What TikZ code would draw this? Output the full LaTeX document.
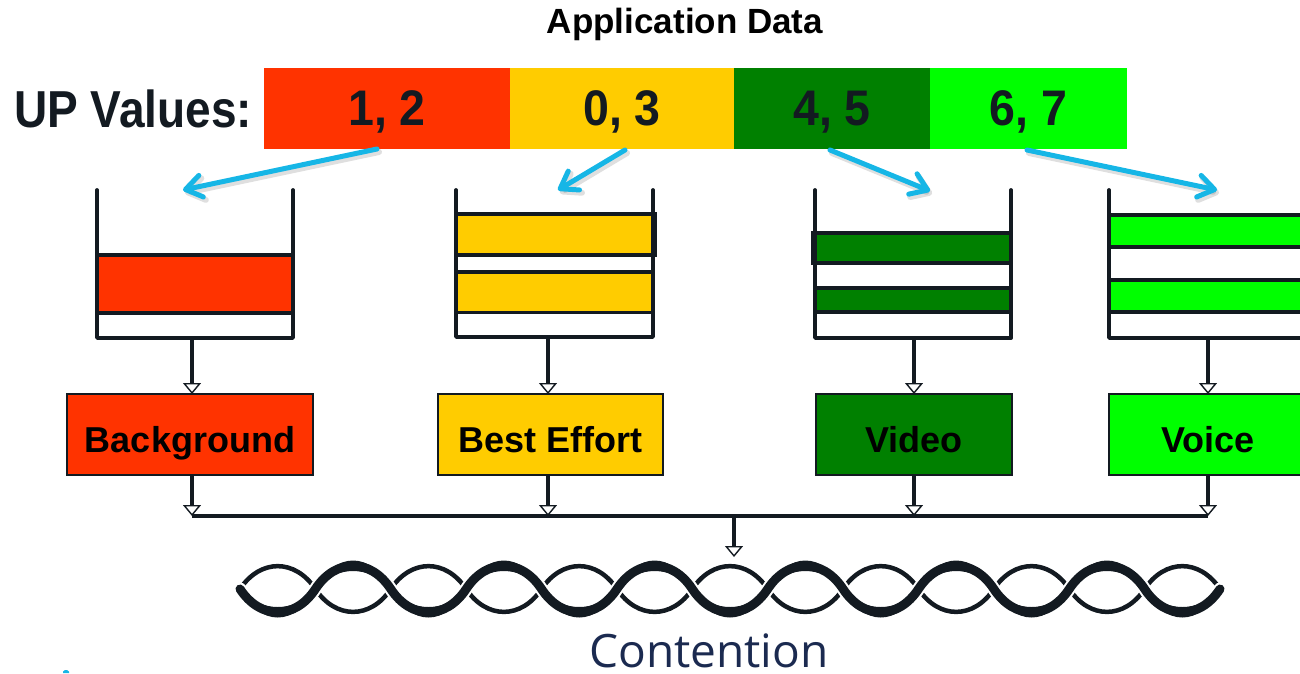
\documentclass[tikz,border=0pt]{standalone}
\usepackage{fontspec}
\setmainfont{Liberation Sans}
\newfontfamily\contfont{Open Sans}
\usepackage{graphicx}
\usetikzlibrary{arrows.meta}
\definecolor{cred}{RGB}{255,51,0}
\definecolor{cyel}{RGB}{255,204,0}
\definecolor{cdkg}{RGB}{0,128,0}
\definecolor{cltg}{RGB}{0,255,0}
\definecolor{cblue}{RGB}{22,182,230}
\definecolor{cink}{RGB}{19,26,33}
\definecolor{cnavy}{RGB}{27,42,80}
\begin{document}
\begin{tikzpicture}[x=1pt,y=-1pt,
  seg/.style={minimum height=81pt, inner sep=0pt, outer sep=0pt, text height=33pt, text depth=0pt,
    font=\bfseries\fontsize{50}{50}\selectfont, text=cink},
  qbox/.style={draw=cink, line width=1.6pt, minimum height=81pt, inner sep=0pt, outer sep=0pt,
    text height=35pt, text depth=0pt, font=\bfseries\fontsize{36}{36}\selectfont, text=black},
  wall/.style={draw=cink, line width=3.8pt, line cap=round, line join=round},
  slot/.style={draw=cink, line width=3.8pt},
  flow/.style={draw=cink, line width=3.4pt, -{Triangle[length=11pt,width=18pt,fill=white,line width=1.4pt]}},
  bus/.style={draw=cink, line width=3.8pt},
  upto/.style={draw=cblue, line width=5pt, line cap=round, -{Straight Barb[length=16pt,width=22pt,round]}},
  upshade/.style={upto, draw=black!70, opacity=0.18, line width=6pt, transform canvas={shift={(2,3)}}},
  thin/.style={draw=cink, line width=4.5pt, line cap=round},
  thick/.style={draw=cink, line width=9pt, line cap=round},
  halo/.style={draw=white, line width=13pt, line cap=round}
]
\useasboundingbox (0,0) rectangle (1300,673);
\clip (0,0) rectangle (1300,673);

% title
\node[anchor=base, inner sep=0pt, font=\bfseries\fontsize{35}{35}\selectfont] (title) at (685,33.5) {Application Data};
\node[anchor=base west, inner sep=0pt, font=\bfseries\fontsize{52}{52}\selectfont, text=cink] (upv) at (14,127) {\scalebox{0.885}[1]{UP Values:}};

% UP value bar
\node[seg, fill=cred, minimum width=246pt] (r12) at (387,108.5) {\scalebox{0.93}[1]{1, 2}};
\node[seg, fill=cyel, minimum width=224pt] (y03) at (622,108.5) {\scalebox{0.93}[1]{0, 3}};
\node[seg, fill=cdkg, minimum width=196pt] (g45) at (832,108.5) {\scalebox{0.93}[1]{4, 5}};
\node[seg, fill=cltg, minimum width=197pt] (l67) at (1028.5,108.5) {\scalebox{0.93}[1]{6, 7}};

% arrow end points
\coordinate (o1) at (377,149);
\coordinate (i1) at (183,190);
\coordinate (o2) at (625,150);
\coordinate (i2) at (558,190);
\coordinate (o3) at (830,150);
\coordinate (i3) at (930,191);
\coordinate (o4) at (1027,150);
\coordinate (i4) at (1217,190);

% queue 1
\filldraw[fill=cred, slot] (97,255) rectangle (293,313);
\draw[wall] (97,190) -- (97,338) -- (293,338) -- (293,190);
% queue 2
\filldraw[fill=cyel, slot] (456,214) rectangle (655,255);
\filldraw[fill=cyel, slot] (456,272) rectangle (653,312.5);
\draw[wall] (456,190) -- (456,337) -- (653,337) -- (653,190);
% queue 3
\filldraw[fill=cdkg, slot] (813,233) rectangle (1011,263);
\filldraw[fill=cdkg, slot] (815,288) rectangle (1011,312);
\draw[wall] (815,190) -- (815,338) -- (1011,338) -- (1011,190);
% queue 4
\filldraw[fill=cltg, slot] (1109,215) rectangle (1306,247);
\filldraw[fill=cltg, slot] (1109,280) rectangle (1306,312);
\draw[wall] (1109,190) -- (1109,338) -- (1306,338) -- (1306,190);

\coordinate (q1) at (192,338);
\coordinate (q2) at (548,337);
\coordinate (q3) at (914,338);
\coordinate (q4) at (1208,338);

% blue arrows
\draw[upshade] (o1) -- (i1);
\draw[upshade] (o2) -- (i2);
\draw[upshade] (o3) -- (i3);
\draw[upshade] (o4) -- (i4);
\draw[upto] (o1) -- (i1);
\draw[upto] (o2) -- (i2);
\draw[upto] (o3) -- (i3);
\draw[upto] (o4) -- (i4);

% AC boxes
\node[qbox, fill=cred, minimum width=246pt] (bg) at (190,434.5) {Background};
\node[qbox, fill=cyel, minimum width=225pt] (be) at (550.5,434.5) {Best Effort};
\node[qbox, fill=cdkg, minimum width=196pt] (vi) at (914,434.5) {Video};
\node[qbox, fill=cltg, minimum width=198pt] (vo) at (1208,434.5) {Voice};

% queue -> box
\draw[flow] (q1) -- (q1 |- bg.north);
\draw[flow] (q2) -- (q2 |- be.north);
\draw[flow] (q3) -- (q3 |- vi.north);
\draw[flow] (q4) -- (q4 |- vo.north);

% bus
\coordinate (busL) at (192,516);
\coordinate (busR) at (1208,516);
\coordinate (busM) at (734,516);
\coordinate (cin) at (734,557);
\draw[bus] (busL) -- (busR);
\draw[flow] (q1 |- bg.south) -- (q1 |- busL);
\draw[flow] (q2 |- be.south) -- (q2 |- busL);
\draw[flow] (q3 |- vi.south) -- (q3 |- busL);
\draw[flow] (q4 |- vo.south) -- (q4 |- busL);
\draw[flow] (busM) -- (cin);

% contention wave
\draw[thin] (240,589) \foreach \k in {0,...,12}{
  .. controls ({240+(\k+0.27)*75.385},{589-30.5*(1-2*mod(\k,2))}) and ({240+(\k+0.73)*75.385},{589-30.5*(1-2*mod(\k,2))}) .. ({240+(\k+1)*75.385},589)};
\draw[halo] (240,589) \foreach \k in {0,...,12}{
  .. controls ({240+(\k+0.27)*75.385},{589+31*(1-2*mod(\k,2))}) and ({240+(\k+0.73)*75.385},{589+31*(1-2*mod(\k,2))}) .. ({240+(\k+1)*75.385},589)};
\draw[thick] (240,589) \foreach \k in {0,...,12}{
  .. controls ({240+(\k+0.27)*75.385},{589+31*(1-2*mod(\k,2))}) and ({240+(\k+0.73)*75.385},{589+31*(1-2*mod(\k,2))}) .. ({240+(\k+1)*75.385},589)};
\foreach \k in {0,...,12}{
  \pgfmathsetmacro{\xa}{240+\k*75.385}
  \pgfmathsetmacro{\s}{1-2*mod(\k,2)}
  \fill[cink] (\xa,589) .. controls ({\xa+20.4},{589+\s*38}) and ({\xa+55},{589+\s*38}) .. ({\xa+75.385},589)
     .. controls ({\xa+55},{589+\s*24}) and ({\xa+20.4},{589+\s*24}) .. (\xa,589) -- cycle;
}

\node[anchor=base, inner sep=0pt, font=\contfont\fontsize{46}{46}\selectfont, text=cnavy] (cont) at (709,667) {Contention};

% small cyan mark at lower left
\fill[cblue] (63,673) -- (63,671.5) -- (65,670) -- (67,670) -- (69,671.5) -- (69,673) -- cycle;
\end{tikzpicture}
\end{document}
